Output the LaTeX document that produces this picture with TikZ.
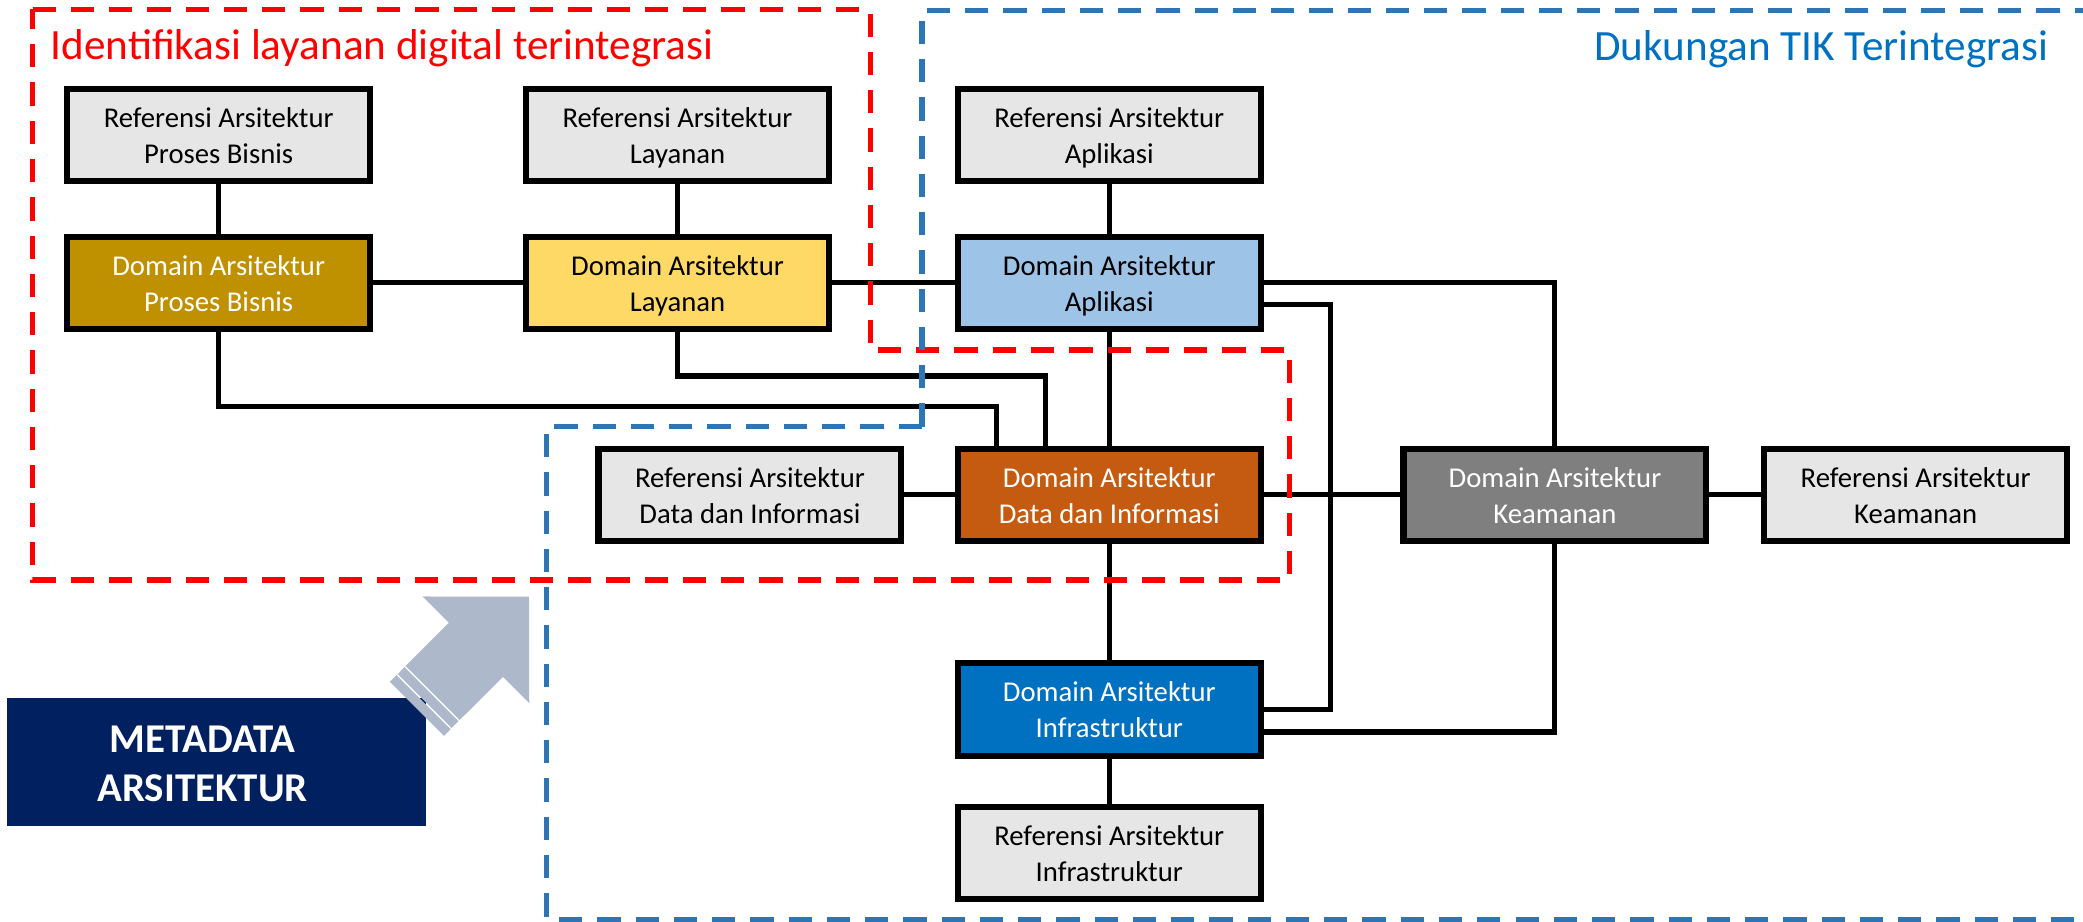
\documentclass[tikz,border=0pt]{standalone}
\usepackage{fontspec}
\setmainfont{Carlito}
\usetikzlibrary{calc}
\definecolor{refgray}{HTML}{E7E6E6}
\definecolor{pbgold}{HTML}{BF9000}
\definecolor{layyel}{HTML}{FFD966}
\definecolor{aplblue}{HTML}{9DC3E6}
\definecolor{datorange}{HTML}{C55A11}
\definecolor{infblue}{HTML}{0070C0}
\definecolor{keagray}{HTML}{7F7F7F}
\definecolor{navybox}{HTML}{002060}
\definecolor{arrowgray}{HTML}{ADB9CA}
\definecolor{dashblue}{HTML}{2E75B6}
\definecolor{titleblue}{HTML}{0070C0}
\definecolor{dashred}{HTML}{FF0000}
\newcommand{\mystr}{\rule[-4.4pt]{0pt}{24.4pt}}
\begin{document}
\begin{tikzpicture}[x=1pt,y=-1pt,
  diabox/.style={draw=black, line width=4.6pt, minimum width=228pt, minimum height=69.5pt,
    inner sep=0pt, align=center, font=\fontsize{21.6}{26.8}\selectfont},
  refbox/.style={diabox, fill=refgray, text=black},
  dombox/.style={diabox, text=white},
  conn/.style={draw=black, line width=3.8pt},
  grpframe/.style={line width=3.9pt, dash pattern=on 17.5pt off 11.3pt},
]
\useasboundingbox (0,0) rectangle (1568,693.3);

% nodes
\node[refbox] (rpb) at (164.6,101.7) {\mystr Referensi Arsitektur\\\mystr Proses Bisnis};
\node[refbox] (rlay) at (510,101.7) {\mystr Referensi Arsitektur\\\mystr Layanan};
\node[refbox] (rapl) at (835,101.7) {\mystr Referensi Arsitektur\\\mystr Aplikasi};
\node[dombox, fill=pbgold] (dpb) at (164.6,213) {\mystr Domain Arsitektur\\\mystr Proses Bisnis};
\node[dombox, fill=layyel, text=black] (dlay) at (510,213) {\mystr Domain Arsitektur\\\mystr Layanan};
\node[dombox, fill=aplblue, text=black] (dapl) at (835,213) {\mystr Domain Arsitektur\\\mystr Aplikasi};
\node[refbox] (rdat) at (564.5,372.5) {\mystr Referensi Arsitektur\\\mystr Data dan Informasi};
\node[dombox, fill=datorange] (ddat) at (835,372.5) {\mystr Domain Arsitektur\\\mystr Data dan Informasi};
\node[dombox, fill=keagray] (dkea) at (1170.5,372.5) {\mystr Domain Arsitektur\\\mystr Keamanan};
\node[refbox] (rkea) at (1442,372.5) {\mystr Referensi Arsitektur\\\mystr Keamanan};
\node[dombox, fill=infblue] (dinf) at (835,534) {\mystr Domain Arsitektur\\\mystr Infrastruktur};
\node[refbox] (rinf) at (835,642) {\mystr Referensi Arsitektur\\\mystr Infrastruktur};

% connectors
\draw[conn] (rpb.south) -- (dpb.north);
\draw[conn] (rlay.south) -- (dlay.north);
\draw[conn] (rapl.south) -- (dapl.north);
\draw[conn] (dpb.east) -- (dlay.west);
\draw[conn] (dlay.east) -- (dapl.west);
\draw[conn] (dpb.south) -- ++(0,55.6) -| ([xshift=-85pt]ddat.north);
\draw[conn] (dlay.south) -- ++(0,33) -| ([xshift=-48pt]ddat.north);
\draw[conn] (dapl.south) -- (ddat.north);
\draw[conn] (ddat.south) -- (dinf.north);
\draw[conn] (dinf.south) -- (rinf.north);
\draw[conn] (rdat.east) -- (ddat.west);
\draw[conn] (ddat.east) -- (dkea.west);
\draw[conn] (dkea.east) -- (rkea.west);
\draw[conn] (dapl.east) -| (dkea.north);
\draw[conn] ([yshift=-16.5pt]dapl.east) -- ++(50,0) |- (dinf.east);
\draw[conn] (dkea.south) |- ([yshift=-17pt]dinf.east);

% group frames
\draw[grpframe, draw=dashred] (24.6,7) -- (655,7) -- (655,263.5) -- (970.5,263.5)
  -- (970.5,436.6) -- (24.6,436.6) -- cycle;
\draw[grpframe, draw=dashblue] (694,321.2) -- (694,8) -- (1600,8);
\draw[grpframe, draw=dashblue] (694,321.2) -- (411.6,321.2) -- (411.6,692) -- (1600,692);

% titles
\node[anchor=base west, inner sep=0pt, text=dashred, font=\fontsize{32.5}{39}\selectfont]
  (redtitle) at (38,44.7) {Identifikasi layanan digital terintegrasi};
\node[anchor=base east, inner sep=0pt, text=titleblue, font=\fontsize{32.5}{39}\selectfont]
  (bluetitle) at (1542,45.9) {Dukungan TIK Terintegrasi};

% metadata box
\node[fill=navybox, minimum width=315.2pt, minimum height=96.3pt, inner sep=0pt] (meta) at (163.1,573.65) {};
\node[text=white, font=\bfseries\fontsize{30.8}{36.8}\selectfont, align=center, inner sep=0pt]
  (metatext) at (152.5,575.2) {METADATA\\ARSITEKTUR};

% striped arrow
\fill[arrowgray] (398.2,449.2) -- (398.4,529.3) -- (378.6,509.5) -- (346.05,542.0)
  -- (305.4,501.35) -- (337.9,468.8) -- (318.1,449.0) -- cycle;
\fill[arrowgray] (345.2,542.85) -- (340.04,548.0) -- (299.4,507.4) -- (304.5,502.2) -- cycle;
\fill[arrowgray] (339.2,548.87) -- (334.2,553.9) -- (293.5,513.2) -- (298.5,508.2) -- cycle;
\end{tikzpicture}
\end{document}
